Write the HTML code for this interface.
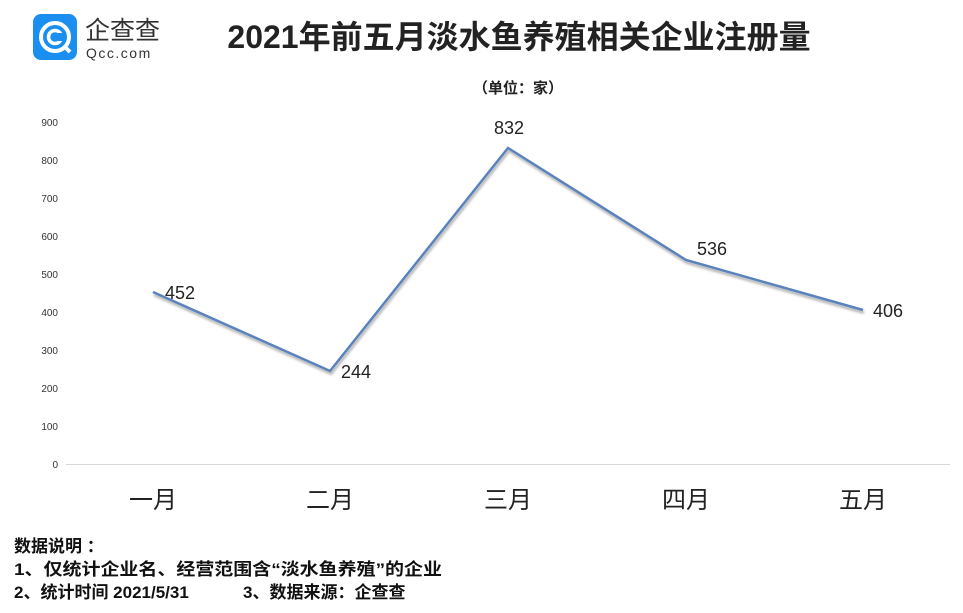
<!DOCTYPE html>
<html><head><meta charset="utf-8"><style>
html,body{margin:0;padding:0;background:#fff;}
svg{display:block;}
text{font-family:"Liberation Sans","Noto Sans CJK SC",sans-serif;}
</style></head><body>
<svg width="963" height="613" viewBox="0 0 963 613" xmlns="http://www.w3.org/2000/svg">
<defs><filter id="sh" x="-5%" y="-5%" width="110%" height="120%"><feDropShadow dx="1" dy="2.5" stdDeviation="1.2" flood-color="#000" flood-opacity="0.35"/></filter></defs>
<rect x="33" y="14" width="44" height="46" rx="8" fill="#1a8ff0"/>
<circle cx="55" cy="37" r="14" fill="none" stroke="#fff" stroke-width="4"/>
<circle cx="55" cy="37" r="6.5" fill="none" stroke="#fff" stroke-width="3.5"/>
<rect x="58" y="33" width="6" height="8" fill="#1a8ff0"/>
<line x1="64" y1="46" x2="70" y2="52" stroke="#fff" stroke-width="4"/>
<text x="85" y="39" font-size="25" fill="#333">企查查</text>
<text x="86" y="58" font-size="14" fill="#333" letter-spacing="1.5">Qcc.com</text>
<text x="519" y="48" font-size="32" font-weight="bold" fill="#222" text-anchor="middle">2021年前五月淡水鱼养殖相关企业注册量</text>
<text x="518" y="93" font-size="15" font-weight="bold" fill="#222" text-anchor="middle">（单位：家）</text>
<g font-size="10" fill="#333" text-anchor="end">
<text x="58" y="468">0</text><text x="58" y="430">100</text><text x="58" y="392">200</text>
<text x="58" y="354">300</text><text x="58" y="316">400</text><text x="58" y="278">500</text>
<text x="58" y="240">600</text><text x="58" y="202">700</text><text x="58" y="164">800</text>
<text x="58" y="126">900</text>
</g>
<line x1="66" y1="464.5" x2="950" y2="464.5" stroke="#d9d9d9" stroke-width="1"/>
<g font-size="24" fill="#222" text-anchor="middle">
<text x="153" y="508">一月</text><text x="330" y="508">二月</text><text x="508" y="508">三月</text>
<text x="686" y="508">四月</text><text x="863" y="508">五月</text>
</g>
<polyline points="153,292 330,371 508,148 686,260 863,310" fill="none" stroke="#5a82bd" stroke-width="2.5" filter="url(#sh)"/>
<g font-size="18" fill="#222">
<text x="165" y="299">452</text><text x="341" y="378">244</text><text x="494" y="134">832</text>
<text x="697" y="255">536</text><text x="873" y="317">406</text>
</g>
<g font-size="17" font-weight="bold" fill="#111">
<text x="14" y="552">数据说明 ：</text>
<text x="14" y="575" textLength="428" lengthAdjust="spacingAndGlyphs">1、仅统计企业名、经营范围含“淡水鱼养殖”的企业</text>
<text x="14" y="598">2、统计时间 2021/5/31</text>
<text x="243" y="598">3、数据来源：企查查</text>
</g>
</svg>
</body></html>
